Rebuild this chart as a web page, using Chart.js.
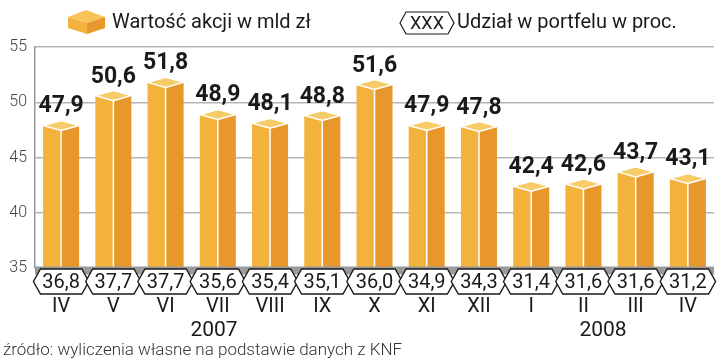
<!DOCTYPE html>
<html>
<head>
<meta charset="utf-8">
<script src="https://cdn.jsdelivr.net/npm/chart.js@4/dist/chart.umd.min.js"></script>
<style>
  html, body { margin: 0; padding: 0; background: #ffffff; }
  #wrap { position: relative; width: 720px; height: 360px; }
</style>
</head>
<body>
<div id="wrap"><canvas id="chart" width="720" height="360"></canvas></div>
<script>
// ---------------------------------------------------
// Data
// ---------------------------------------------------
var months = ['IV', 'V', 'VI', 'VII', 'VIII', 'IX', 'X', 'XI', 'XII', 'I', 'II', 'III', 'IV'];
var stockValues = [47.9, 50.6, 51.8, 48.9, 48.1, 48.8, 51.6, 47.9, 47.8, 42.4, 42.6, 43.7, 43.1];
var portfolioShare = [36.8, 37.7, 37.7, 35.6, 35.4, 35.1, 36.0, 34.9, 34.3, 31.4, 31.6, 31.6, 31.2];
var years = [
  { label: '2007', first: 0, last: 8 },
  { label: '2008', first: 9, last: 12 }
];
var legendValueLabel = 'Wartość akcji w mld zł';
var legendShareLabel = 'Udział w portfelu w proc.';
var sourceNote = 'źródło: wyliczenia własne na podstawie danych z KNF';

// Colours
var FACE_LEFT = '#f2b23b';
var FACE_RIGHT = '#e8982b';
var FACE_TOP = '#f8cb69';
var FONT = 'Roboto, "Liberation Sans", sans-serif';

function fmt(v) {
  return v.toFixed(1).replace('.', ',');
}

/**
 * Hexagon path centred on cx, cy
 */
function hexPath(ctx, cx, cy, halfW, halfH, inset) {
  ctx.beginPath();
  ctx.moveTo(cx - halfW, cy);
  ctx.lineTo(cx - halfW + inset, cy - halfH);
  ctx.lineTo(cx + halfW - inset, cy - halfH);
  ctx.lineTo(cx + halfW, cy);
  ctx.lineTo(cx + halfW - inset, cy + halfH);
  ctx.lineTo(cx - halfW + inset, cy + halfH);
  ctx.closePath();
}

/**
 * Draw a 3D box bar (left face, right face, rhombus top)
 */
function drawBox(ctx, x, y, base, w, d) {
  var l = x - w / 2, r = x + w / 2;
  ctx.fillStyle = FACE_LEFT;
  ctx.beginPath();
  ctx.moveTo(l, y); ctx.lineTo(x, y + d); ctx.lineTo(x, base); ctx.lineTo(l, base);
  ctx.closePath(); ctx.fill();

  ctx.fillStyle = FACE_RIGHT;
  ctx.beginPath();
  ctx.moveTo(x, y + d); ctx.lineTo(r, y); ctx.lineTo(r, base); ctx.lineTo(x, base);
  ctx.closePath(); ctx.fill();

  ctx.fillStyle = FACE_TOP;
  ctx.strokeStyle = '#ffffff';
  ctx.lineWidth = 1.5;
  ctx.beginPath();
  ctx.moveTo(l, y); ctx.lineTo(x, y - d); ctx.lineTo(r, y); ctx.lineTo(x, y + d);
  ctx.closePath(); ctx.fill(); ctx.stroke();

  ctx.beginPath();
  ctx.moveTo(x, y + d); ctx.lineTo(x, base);
  ctx.stroke();
}

// ---------------------------------------------------
// Plugin: boxes, value labels, hexagon row, months, years, legend, source
// ---------------------------------------------------
var decorPlugin = {
  id: 'decor',
  afterDatasetsDraw: function(chart) {
    var ctx = chart.ctx;
    var area = chart.chartArea;
    var xScale = chart.scales.x;
    var meta = chart.getDatasetMeta(0);
    var catW = xScale.getPixelForValue(1) - xScale.getPixelForValue(0);

    ctx.save();

    // boxes + value labels
    meta.data.forEach(function(bar, i) {
      var p = bar.getProps(['x', 'y', 'base', 'width'], true);
      var base = Math.min(p.base, area.bottom);
      drawBox(ctx, p.x, p.y, base - 1, p.width, 5);
      ctx.fillStyle = '#1a1a1a';
      ctx.font = 'bold 23px ' + FONT;
      ctx.textAlign = 'center';
      ctx.textBaseline = 'alphabetic';
      ctx.fillText(fmt(stockValues[i]), p.x, p.y - 13);
    });

    // grey baseline band
    var hexTop = area.bottom + 1;
    var hexH = 25;
    var hexMid = hexTop + hexH / 2;
    ctx.fillStyle = '#9a9a9a';
    ctx.fillRect(area.left, area.bottom - 1.5, area.right - area.left, 8);

    // hexagon labels
    ctx.lineWidth = 1.4;
    ctx.strokeStyle = '#1a1a1a';
    portfolioShare.forEach(function(v, i) {
      var cx = xScale.getPixelForValue(i);
      hexPath(ctx, cx, hexMid, catW * 0.53, hexH / 2, 7);
      ctx.fillStyle = '#ffffff';
      ctx.fill();
      ctx.stroke();
    });
    ctx.fillStyle = '#1a1a1a';
    ctx.font = '20px ' + FONT;
    ctx.textAlign = 'center';
    ctx.textBaseline = 'middle';
    portfolioShare.forEach(function(v, i) {
      ctx.fillText(fmt(v), xScale.getPixelForValue(i), hexMid + 1);
    });

    // months
    ctx.font = '20px ' + FONT;
    months.forEach(function(m, i) {
      ctx.fillText(m, xScale.getPixelForValue(i), 307);
    });

    // years
    ctx.font = '21px ' + FONT;
    ctx.fillText(years[0].label, 214, 331);
    ctx.fillText(years[1].label, 603, 331);

    // source
    ctx.textAlign = 'left';
    ctx.fillStyle = '#333333';
    ctx.font = '300 17px ' + FONT;
    ctx.fillText(sourceNote, 3, 351);

    // legend: box icon
    ctx.fillStyle = '#f7c45a';
    ctx.beginPath();
    ctx.moveTo(68, 17); ctx.lineTo(86, 10); ctx.lineTo(105, 17); ctx.lineTo(87, 23);
    ctx.closePath(); ctx.fill();
    ctx.fillStyle = FACE_LEFT;
    ctx.beginPath();
    ctx.moveTo(68, 17); ctx.lineTo(87, 23); ctx.lineTo(87, 34); ctx.lineTo(68, 28);
    ctx.closePath(); ctx.fill();
    ctx.fillStyle = FACE_RIGHT;
    ctx.beginPath();
    ctx.moveTo(87, 23); ctx.lineTo(105, 17); ctx.lineTo(105, 28); ctx.lineTo(87, 34);
    ctx.closePath(); ctx.fill();

    ctx.fillStyle = '#1a1a1a';
    ctx.font = '20px ' + FONT;
    ctx.textBaseline = 'middle';
    ctx.fillText(legendValueLabel, 112, 23);

    // legend: hexagon icon
    ctx.lineWidth = 1.2;
    hexPath(ctx, 427, 23, 27, 11, 6);
    ctx.stroke();
    ctx.textAlign = 'center';
    ctx.font = '18px ' + FONT;
    ctx.fillText('XXX', 427, 24);
    ctx.textAlign = 'left';
    ctx.font = '20px ' + FONT;
    ctx.fillText(legendShareLabel, 457, 23);

    ctx.restore();
  }
};

// ---------------------------------------------------
// Chart
// ---------------------------------------------------
var ctx = document.getElementById('chart').getContext('2d');
var chart = new Chart(ctx, {
  type: 'bar',
  data: {
    labels: months,
    datasets: [{
      data: stockValues,
      backgroundColor: 'rgba(0,0,0,0)',
      borderWidth: 0,
      barPercentage: 0.69,
      categoryPercentage: 1
    }]
  },
  options: {
    responsive: false,
    animation: false,
    layout: {
      padding: { top: 47, right: 6, bottom: 92, left: 0 }
    },
    plugins: {
      legend: { display: false },
      tooltip: { enabled: false }
    },
    scales: {
      x: {
        display: false
      },
      y: {
        min: 35,
        max: 55,
        afterFit: function(scale) { scale.width = 35; },
        border: { display: true, color: '#9a9a9a', width: 1.5 },
        grid: { color: '#b5b5b5', lineWidth: 1.5, drawTicks: false },
        ticks: {
          stepSize: 5,
          padding: 8,
          color: '#444444',
          font: { family: 'Roboto', size: 16, weight: '300' }
        }
      }
    }
  },
  plugins: [decorPlugin]
});
</script>
</body>
</html>
